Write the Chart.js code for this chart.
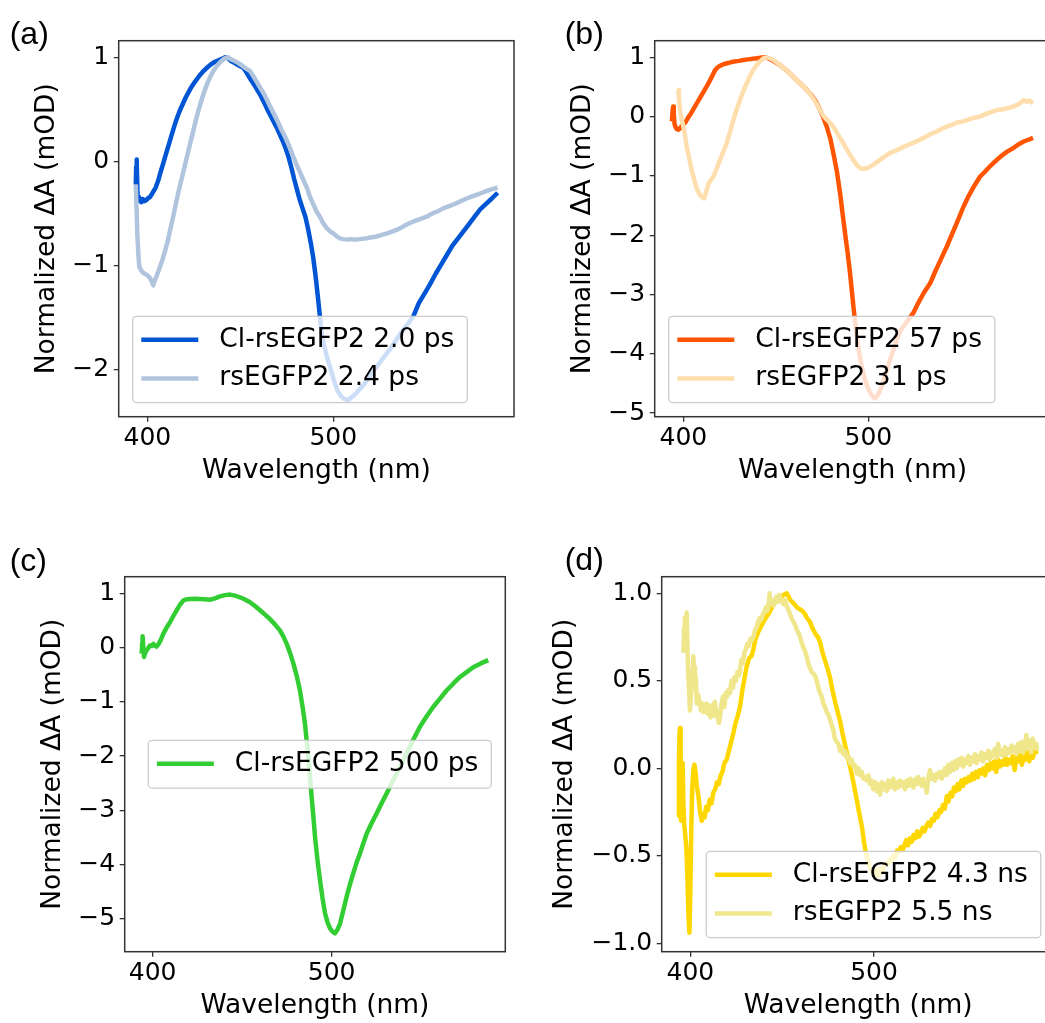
<!DOCTYPE html>
<html>
<head>
<meta charset="utf-8">
<script src="https://cdn.jsdelivr.net/npm/chart.js@4.4.1/dist/chart.umd.min.js"></script>
<style>
  body { margin: 0; background: #fff; }
  #page { position: relative; width: 1045px; height: 1023px; overflow: hidden; background: #fff; }
  #page canvas { position: absolute; }
</style>
</head>
<body>
<div id="page">
  <canvas id="chartA" width="522" height="500" style="left:0;top:0"></canvas>
  <canvas id="chartB" width="560" height="500" style="left:522px;top:0"></canvas>
  <canvas id="chartC" width="522" height="503" style="left:0;top:520px"></canvas>
  <canvas id="chartD" width="560" height="503" style="left:522px;top:520px"></canvas>
</div>
<script>
// spectra as [wavelength (nm), normalized dA] pairs
const specA_cl = [[393.8,-0.22],[394.0,-0.05],[394.2,0.02],[394.4,-0.02],[394.7,-0.30],[395.0,-0.37],[395.5,-0.34],[396.0,-0.38],[396.8,-0.39],[397.6,-0.36],[398.5,-0.38],[399.5,-0.37],[400.5,-0.35],[401.5,-0.34],[402.5,-0.31],[403.5,-0.28],[404.5,-0.25],[405.9,-0.18],[407,-0.11],[408.5,-0.02],[410,0.07],[411.5,0.16],[413,0.25],[414.5,0.34],[416,0.42],[417.5,0.49],[419,0.55],[420.5,0.61],[422,0.66],[423.5,0.71],[425,0.75],[426.6,0.79],[428.3,0.83],[430,0.865],[432,0.90],[434,0.93],[436,0.955],[438,0.97],[440,0.985],[441.8,1.0],[443.5,0.99],[445,0.965],[447,0.945],[449,0.925],[451.6,0.90],[453.5,0.85],[455.5,0.79],[457,0.75],[459,0.69],[461,0.63],[463,0.56],[464.5,0.50],[466,0.45],[468,0.38],[470,0.31],[471.5,0.25],[473,0.19],[474.5,0.12],[476,0.04],[477.5,-0.06],[479,-0.17],[480.5,-0.27],[482,-0.37],[483.5,-0.45],[485,-0.53],[486.5,-0.65],[488,-0.79],[489.2,-0.92],[490.5,-1.10],[491.9,-1.33],[493,-1.52],[493.7,-1.65],[495,-1.76],[496.5,-1.87],[498.2,-1.97],[500,-2.08],[502,-2.19],[504,-2.25],[506,-2.28],[508,-2.29],[510,-2.26],[512,-2.23],[514,-2.19],[516.5,-2.14],[519,-2.08],[522,-2.00],[525,-1.93],[528,-1.86],[531,-1.79],[534,-1.71],[537,-1.63],[540,-1.56],[543,-1.49],[546,-1.36],[549,-1.27],[552,-1.18],[555,-1.08],[558,-0.99],[561,-0.90],[564,-0.81],[567,-0.74],[570,-0.67],[573,-0.60],[576,-0.53],[579,-0.46],[582,-0.41],[585,-0.36],[588.4,-0.30]];
const specA_wt = [[393.8,-0.22],[394.2,-0.45],[394.6,-0.69],[395.2,-0.90],[395.7,-1.01],[396.5,-1.04],[397.8,-1.07],[399,-1.08],[400.5,-1.10],[401.5,-1.12],[402.5,-1.16],[403.2,-1.19],[404,-1.14],[405,-1.10],[406,-1.05],[406.8,-1.01],[408,-0.95],[409.5,-0.86],[411,-0.76],[412.5,-0.64],[414,-0.52],[415.5,-0.39],[417,-0.27],[418.5,-0.16],[420,-0.05],[421.5,0.06],[423,0.17],[424.5,0.28],[426,0.39],[427.5,0.49],[429.5,0.61],[431,0.69],[432.5,0.76],[434,0.82],[435.5,0.87],[437.5,0.92],[439.5,0.96],[441.5,0.99],[443.5,1.0],[445,0.98],[447,0.965],[449,0.945],[451,0.92],[453,0.895],[455.2,0.87],[457,0.82],[459,0.76],[461,0.70],[463,0.64],[466,0.53],[468,0.46],[470,0.39],[472,0.31],[474,0.24],[476,0.16],[478,0.07],[480,-0.02],[482,-0.10],[484,-0.18],[486,-0.26],[487.5,-0.34],[489.5,-0.42],[491,-0.48],[492.8,-0.53],[494.5,-0.59],[496.5,-0.64],[498.3,-0.67],[500,-0.69],[502,-0.72],[503.8,-0.74],[505.4,-0.745],[507.5,-0.75],[509.5,-0.745],[511.5,-0.75],[514.4,-0.745],[517,-0.74],[520,-0.73],[523.3,-0.72],[526,-0.705],[529,-0.69],[532,-0.67],[535,-0.65],[538,-0.62],[541.2,-0.59],[544,-0.57],[547,-0.55],[550.2,-0.53],[553,-0.50],[556,-0.48],[559.1,-0.45],[562,-0.43],[565,-0.41],[568.1,-0.385],[571,-0.36],[574,-0.34],[577,-0.32],[580,-0.30],[583,-0.28],[585.5,-0.265],[588.4,-0.25]];

const specB_cl = [[393.8,-0.08],[394.2,0.10],[394.5,0.17],[394.8,0.05],[395.2,-0.12],[395.8,-0.18],[396.5,-0.21],[397.3,-0.22],[398.2,-0.20],[399,-0.16],[400,-0.13],[401,-0.10],[402.5,-0.02],[404,0.05],[405.5,0.13],[407,0.21],[408.5,0.29],[410,0.37],[411.5,0.45],[413,0.53],[414.5,0.62],[416,0.71],[417.1,0.78],[418.5,0.83],[420,0.86],[421.5,0.88],[423.5,0.90],[425.5,0.915],[427.5,0.93],[430,0.94],[432.5,0.955],[435,0.965],[437.5,0.975],[440,0.985],[442.5,0.995],[444.2,1.0],[446,0.98],[448,0.95],[450,0.91],[452.3,0.87],[454.5,0.81],[456.5,0.76],[459.5,0.67],[462,0.59],[464.5,0.52],[466.7,0.45],[469,0.37],[471.5,0.26],[473.9,0.11],[475.5,0.0],[477.5,-0.17],[479.5,-0.38],[481.1,-0.62],[483,-0.93],[484.7,-1.29],[486,-1.62],[487.4,-1.97],[488.8,-2.30],[490.1,-2.64],[491,-2.92],[491.9,-3.2],[492.8,-3.45],[493.7,-3.7],[495,-3.98],[496.4,-4.21],[498.2,-4.44],[500,-4.6],[501.8,-4.70],[503.6,-4.75],[505.4,-4.68],[507.2,-4.55],[509.5,-4.33],[511.7,-4.1],[514.5,-3.84],[517.1,-3.62],[521,-3.45],[524.3,-3.31],[527,-3.14],[530,-2.97],[533.4,-2.81],[536,-2.62],[539,-2.42],[542.4,-2.19],[545,-2.00],[548,-1.78],[551.4,-1.52],[554,-1.35],[557,-1.18],[560.4,-1.01],[563,-0.93],[566,-0.83],[569.4,-0.73],[572,-0.66],[575,-0.59],[578.4,-0.53],[581,-0.47],[584,-0.42],[586.5,-0.39],[589,-0.36]];
const specB_wt = [[397.3,0.45],[397.6,0.30],[398.2,0.11],[399,-0.03],[400,-0.17],[401,-0.34],[401.8,-0.51],[403,-0.68],[404.5,-0.90],[405.8,-1.06],[407.2,-1.21],[408.5,-1.30],[409.9,-1.35],[411.2,-1.38],[412.3,-1.27],[413.5,-1.14],[415,-1.06],[416.2,-1.01],[418,-0.88],[419.8,-0.73],[421.5,-0.60],[423.4,-0.45],[425.2,-0.26],[427,-0.06],[428.8,0.12],[430.6,0.28],[432.4,0.43],[434.2,0.56],[436,0.68],[437.8,0.79],[439.6,0.87],[441.4,0.93],[443.2,0.98],[445,1.0],[446.8,0.985],[448.6,0.955],[450.5,0.91],[452.3,0.87],[455,0.80],[457.5,0.73],[459.5,0.67],[462,0.59],[464.5,0.52],[466.7,0.45],[469,0.36],[471.5,0.24],[473.9,0.11],[476,0.0],[478.5,-0.08],[481.1,-0.17],[483.5,-0.30],[486.5,-0.45],[489,-0.59],[491.9,-0.73],[493.5,-0.81],[495.5,-0.87],[497.5,-0.88],[499.1,-0.87],[501,-0.84],[502.7,-0.81],[505,-0.76],[507.5,-0.70],[509.9,-0.65],[512,-0.61],[515,-0.57],[518.9,-0.51],[522,-0.47],[525,-0.43],[527.9,-0.39],[531,-0.34],[534,-0.29],[536.9,-0.25],[540,-0.20],[542.4,-0.17],[545,-0.14],[548,-0.10],[551.4,-0.08],[554,-0.05],[557,-0.02],[560.4,0.0],[563,0.04],[566,0.07],[569.4,0.11],[572,0.12],[575,0.14],[578.4,0.17],[580.5,0.20],[582.5,0.24],[584,0.28],[585.5,0.25],[587,0.27],[589,0.225]];

const specC_cl = [[393.9,-0.11],[394.2,0.10],[394.4,0.21],[394.7,0.05],[395.2,-0.17],[395.8,-0.10],[396.6,-0.05],[397.5,-0.01],[398.5,0.04],[399.5,0.03],[400.4,0.07],[401.2,0.04],[402.2,0.02],[403.2,0.06],[404.5,0.14],[406,0.26],[407.8,0.37],[409.7,0.47],[411.5,0.58],[413.4,0.69],[415.2,0.79],[417.1,0.87],[418.5,0.89],[420.9,0.90],[423.5,0.905],[426.4,0.90],[429,0.895],[432,0.885],[434.8,0.91],[437.6,0.946],[440.4,0.97],[443.2,0.98],[446,0.96],[448.8,0.93],[451.6,0.89],[454.4,0.84],[457.2,0.77],[460,0.69],[462.8,0.61],[465.5,0.53],[468.3,0.43],[471.1,0.32],[473,0.21],[474.9,0.07],[476.8,-0.10],[478.6,-0.29],[480.5,-0.52],[482.3,-0.79],[483.7,-1.08],[485.1,-1.40],[486,-1.70],[487,-2.01],[487.9,-2.38],[488.8,-2.75],[489.8,-3.12],[490.7,-3.49],[492.1,-3.92],[493.5,-4.29],[494.9,-4.62],[496.3,-4.90],[497.7,-5.07],[499.1,-5.18],[500.5,-5.24],[501.9,-5.27],[503.3,-5.20],[504.7,-5.09],[506.5,-4.85],[508.4,-4.59],[510.2,-4.37],[512.1,-4.16],[513.9,-3.97],[515.8,-3.80],[517.7,-3.61],[519.6,-3.43],[522.3,-3.24],[525.1,-3.06],[527.9,-2.87],[530.7,-2.69],[533.5,-2.50],[536.3,-2.32],[539.1,-2.13],[541.9,-1.95],[545.6,-1.70],[549.3,-1.46],[553,-1.27],[556.8,-1.09],[560.5,-0.94],[564.2,-0.79],[568,-0.66],[571.7,-0.54],[575.4,-0.45],[579.1,-0.36],[583.3,-0.29],[587.5,-0.23]];

const specD_cl = [[393.5,-0.28],[393.8,0.05],[394.1,0.20],[394.4,0.23],[394.7,0.10],[395.0,-0.30],[395.4,-0.05],[395.8,0.03],[396.2,-0.20],[396.6,-0.31],[397.2,-0.38],[397.8,-0.45],[398.4,-0.62],[399.0,-0.85],[399.5,-0.94],[400.0,-0.70],[400.5,-0.35],[401.0,-0.12],[401.6,-0.01],[402.2,0.02],[402.8,-0.02],[403.5,-0.10],[404.4,-0.16],[405.2,-0.24],[406.2,-0.30],[407.0,-0.26],[407.8,-0.28],[408.6,-0.22],[409.5,-0.24],[410.5,-0.18],[411.5,-0.20],[412.5,-0.14],[413.5,-0.12],[414.5,-0.08],[415.5,-0.09],[416.5,-0.04],[417.5,-0.02],[418.5,0.03],[419.8,0.05],[421,0.10],[422.2,0.15],[423.4,0.20],[424.6,0.26],[425.8,0.30],[427,0.35],[428.2,0.44],[429.4,0.51],[430.6,0.58],[432,0.63],[433.2,0.64],[434.3,0.68],[435.5,0.74],[437,0.78],[438.5,0.81],[440,0.84],[441.6,0.87],[443,0.89],[444.5,0.92],[446,0.95],[447.5,0.96],[449,0.97],[450.5,0.99],[452.5,1.0],[453.5,0.98],[454.5,0.96],[455.5,0.95],[456.5,0.94],[458,0.92],[459.5,0.91],[461,0.90],[462.5,0.88],[463.4,0.86],[465,0.84],[466.5,0.80],[468,0.77],[469.5,0.75],[470.6,0.72],[472,0.66],[473.5,0.61],[475,0.56],[476,0.52],[477.5,0.44],[479,0.37],[480.5,0.31],[481.5,0.27],[483,0.19],[484.5,0.12],[486,0.05],[486.9,0.01],[488,-0.04],[489.5,-0.12],[490.6,-0.18],[492,-0.26],[493.5,-0.34],[494.5,-0.42],[495.5,-0.48],[496.5,-0.52],[497.5,-0.56],[498.5,-0.58],[499.6,-0.60],[500.5,-0.62],[501.5,-0.58],[502.5,-0.61],[503.5,-0.57],[504.5,-0.60],[505.5,-0.56],[506.5,-0.54],[507.5,-0.55],[508.5,-0.52],[509.5,-0.53],[510.5,-0.50],[511.5,-0.51],[512.5,-0.47],[513.5,-0.48],[514.5,-0.45],[515.5,-0.47],[516.5,-0.44],[517.5,-0.41],[518.5,-0.44],[519.5,-0.40],[520.5,-0.42],[521.5,-0.38],[522.5,-0.40],[523.5,-0.36],[524.5,-0.39],[525.5,-0.37],[526.5,-0.34],[527.5,-0.36],[528.5,-0.33],[529.5,-0.31],[530.5,-0.33],[531.5,-0.29],[532.5,-0.30],[533.5,-0.26],[534.5,-0.28],[535.5,-0.24],[536.5,-0.25],[537.5,-0.21],[538.5,-0.23],[539.6,-0.16],[540.5,-0.19],[541.5,-0.14],[542.5,-0.16],[543.5,-0.11],[544.5,-0.13],[545.5,-0.09],[546.5,-0.12],[547.5,-0.07],[548.5,-0.10],[549.5,-0.06],[550.5,-0.08],[551.5,-0.05],[552.5,-0.07],[553.5,-0.03],[554.5,-0.06],[555.5,-0.02],[556.5,-0.05],[557.5,-0.01],[558.5,-0.03],[559.5,0.0],[560.5,-0.04],[561.5,0.02],[562.5,-0.01],[563.5,0.03],[564.5,0.0],[565.5,0.04],[566.5,-0.02],[567.5,0.05],[568.5,0.01],[569.5,0.04],[570.5,0.02],[571.5,0.06],[572.5,0.02],[573.5,0.05],[574.5,0.03],[575.5,0.07],[576.5,-0.01],[577.5,0.06],[578.5,0.04],[579.5,0.08],[580.5,0.02],[581.5,0.07],[582.5,0.05],[583.5,0.10],[584.5,0.04],[585.5,0.09],[586.5,0.06],[587.5,0.11],[588.5,0.08]];
const specD_wt = [[396.2,0.66],[396.6,0.80],[397.0,0.86],[397.4,0.78],[398.0,0.89],[398.4,0.70],[398.8,0.55],[399.3,0.45],[399.8,0.33],[400.3,0.42],[400.8,0.55],[401.3,0.50],[401.6,0.64],[402.0,0.58],[402.5,0.45],[403.0,0.52],[403.5,0.37],[404.2,0.42],[405.0,0.38],[405.8,0.33],[406.5,0.37],[407.3,0.32],[408.0,0.36],[408.9,0.37],[409.6,0.31],[410.3,0.35],[411.0,0.29],[411.8,0.36],[412.5,0.30],[413.3,0.38],[414.0,0.33],[414.8,0.29],[415.6,0.26],[416.2,0.30],[417,0.37],[417.8,0.41],[418.5,0.35],[419.3,0.43],[420.0,0.41],[420.8,0.45],[421.6,0.43],[422.4,0.50],[423.2,0.46],[424,0.52],[424.8,0.50],[425.6,0.55],[426.4,0.53],[427,0.56],[427.8,0.62],[428.6,0.60],[429.4,0.66],[430.2,0.68],[431,0.71],[431.8,0.70],[432.6,0.74],[433.4,0.73],[434.3,0.75],[435.2,0.79],[436,0.80],[437,0.84],[437.8,0.86],[438.6,0.85],[439.5,0.88],[440.4,0.90],[441.2,0.92],[442,0.90],[442.8,0.96],[443.2,1.0],[443.6,0.94],[444.4,0.96],[445.2,0.93],[446,0.95],[446.8,0.98],[447.6,0.95],[448.4,0.99],[449.2,0.97],[450,0.95],[450.6,0.94],[451.5,0.96],[452.3,0.93],[453.2,0.91],[454,0.89],[455,0.86],[456,0.84],[457,0.82],[458,0.79],[459,0.77],[459.7,0.75],[460.6,0.72],[461.5,0.69],[462.4,0.67],[463.3,0.64],[464.2,0.60],[465.2,0.57],[466.1,0.55],[467,0.54],[467.9,0.53],[468.8,0.50],[469.7,0.46],[470.6,0.43],[471.5,0.41],[472.4,0.37],[473.3,0.35],[474.2,0.32],[475.1,0.31],[476,0.28],[476.9,0.25],[477.8,0.22],[478.7,0.17],[479.7,0.15],[480.6,0.14],[481.5,0.10],[482.4,0.12],[483.3,0.08],[484.2,0.10],[485.1,0.06],[486,0.07],[486.9,0.03],[487.8,0.05],[488.7,0.01],[489.6,0.02],[490.6,-0.03],[491.5,0.0],[492.4,-0.04],[493.3,-0.02],[494.2,-0.06],[495.1,-0.05],[496,-0.07],[496.9,-0.04],[497.8,-0.09],[498.7,-0.07],[499.6,-0.12],[500.5,-0.08],[501.4,-0.13],[502.3,-0.09],[503.3,-0.15],[504.2,-0.08],[505.1,-0.12],[506,-0.09],[506.9,-0.13],[507.8,-0.07],[508.7,-0.11],[509.6,-0.10],[510.5,-0.06],[511.4,-0.12],[512.3,-0.08],[513.2,-0.11],[514.1,-0.07],[515,-0.10],[515.9,-0.08],[516.8,-0.12],[517.8,-0.07],[518.7,-0.10],[519.6,-0.06],[520.5,-0.09],[521.4,-0.11],[522.3,-0.06],[523.2,-0.09],[524.1,-0.05],[525,-0.08],[525.9,-0.10],[526.8,-0.06],[527.7,-0.09],[528.7,-0.14],[529.6,-0.05],[530.5,-0.01],[531.4,-0.06],[532.3,-0.04],[533.2,-0.07],[534.1,-0.03],[535,-0.05],[535.9,-0.02],[536.8,-0.06],[537.7,-0.03],[538.6,0.0],[539.5,-0.04],[540.4,0.02],[541.4,-0.02],[542.3,0.03],[543.2,-0.01],[544.1,0.04],[545,0.0],[545.9,0.05],[546.8,0.02],[547.7,0.06],[548.6,0.01],[549.5,0.05],[550.4,0.03],[551.3,0.07],[552.2,0.02],[553.1,0.06],[554,0.04],[554.9,0.08],[555.8,0.03],[556.7,0.07],[557.6,0.05],[558.5,0.09],[559.4,0.04],[560.3,0.08],[561.2,0.06],[562.1,0.10],[563,0.05],[563.9,0.09],[564.8,0.07],[565.7,0.11],[566.7,0.06],[567.6,0.14],[568.5,0.08],[569.4,0.10],[570.3,0.07],[571.2,0.12],[572.1,0.08],[573,0.11],[573.9,0.09],[574.8,0.13],[575.7,0.10],[576.6,0.12],[577.5,0.08],[578.4,0.14],[579.3,0.10],[580.2,0.15],[581.1,0.09],[582,0.13],[582.9,0.19],[583.8,0.11],[584.7,0.16],[585.6,0.09],[586.5,0.17],[587.4,0.12],[588.3,0.14],[588.8,0.10]];

// tick values
const xTicks = [400, 500];
const yTicksA = [-2, -1, 0, 1];
const yTicksB = [-5, -4, -3, -2, -1, 0, 1];
const yTicksC = [-5, -4, -3, -2, -1, 0, 1];
const yTicksD = [-1, -0.5, 0, 0.5, 1];

const FONT = 'DejaVu Sans';
const AXIS_COLOR = '#333333';

// matplotlib style minus sign
function fmtInt(v) { return v < 0 ? '\u2212' + Math.abs(v) : String(v); }
function fmtOne(v) { return v < 0 ? '\u2212' + Math.abs(v).toFixed(1) : v.toFixed(1); }

const panelDecor = {
  id: 'panelDecor',
  afterDatasetsDraw(chart, args, opts) {
    const ctx = chart.ctx;
    const a = chart.chartArea;
    ctx.save();
    ctx.strokeStyle = AXIS_COLOR;
    ctx.lineWidth = 1.5;
    ctx.strokeRect(a.left, a.top, a.right - a.left, a.bottom - a.top);

    // legend box
    const sets = chart.data.datasets;
    ctx.font = '26.5px "' + FONT + '"';
    const textW = Math.max(...sets.map(d => ctx.measureText(d.label).width));
    const w = textW + 99.5;
    const h = 9 + 38.7 * sets.length;
    const gap = 14;
    let x = a.left + gap;
    let y = a.bottom - gap - h;
    if (opts.loc === 'lower right') x = a.right - gap - w;
    if (opts.loc === 'center right') {
      x = a.right - gap - w;
      y = (a.top + a.bottom - h) / 2;
    }
    ctx.beginPath();
    ctx.roundRect(x, y, w, h, 4);
    ctx.fillStyle = 'rgba(255,255,255,0.8)';
    ctx.fill();
    ctx.strokeStyle = '#cccccc';
    ctx.lineWidth = 1.3;
    ctx.stroke();

    ctx.textBaseline = 'middle';
    ctx.textAlign = 'left';
    sets.forEach((d, i) => {
      const cy = y + 23.5 + 38.7 * i;
      ctx.beginPath();
      ctx.moveTo(x + 8.6, cy);
      ctx.lineTo(x + 65.6, cy);
      ctx.strokeStyle = d.borderColor;
      ctx.lineWidth = 4.5;
      ctx.stroke();
      ctx.fillStyle = '#000';
      ctx.fillText(d.label, x + 86.6, cy);
    });

    // panel tag
    ctx.font = '32px "Liberation Sans"';
    ctx.textBaseline = 'alphabetic';
    ctx.fillText(opts.tag.text, opts.tag.x, opts.tag.y);
    ctx.restore();
  }
};

function series(label, points, color, order) {
  return {
    label: label,
    data: points.map(p => ({ x: p[0], y: p[1] })),
    borderColor: color,
    borderWidth: 4.5,
    pointRadius: 0,
    tension: 0,
    fill: false,
    borderJoinStyle: 'round',
    order: order
  };
}

function makePanel(id, p) {
  const canvas = document.getElementById(id);
  const W = canvas.width, H = canvas.height;
  const xAxisH = 70.5;
  return new Chart(canvas, {
    type: 'line',
    data: { datasets: p.datasets },
    plugins: [panelDecor],
    options: {
      responsive: false,
      animation: false,
      devicePixelRatio: 1,
      layout: { padding: { left: 0, top: p.area.top, right: W - p.area.right, bottom: H - p.area.bottom - xAxisH } },
      plugins: {
        legend: { display: false },
        tooltip: { enabled: false },
        panelDecor: { loc: p.loc, tag: p.tag }
      },
      scales: {
        x: {
          type: 'linear',
          min: p.xRange[0],
          max: p.xRange[1],
          afterBuildTicks: s => { s.ticks = xTicks.map(v => ({ value: v })); },
          afterFit: s => { s.height = xAxisH; },
          border: { display: false },
          grid: { drawOnChartArea: false, drawTicks: true, tickLength: 5, color: AXIS_COLOR, lineWidth: 1.3 },
          ticks: { font: { family: FONT, size: 25 }, color: '#000', padding: 2, maxRotation: 0, callback: v => String(v) },
          title: { display: true, text: 'Wavelength (nm)', font: { family: FONT, size: 26.5 }, color: '#000', padding: { top: 0, bottom: 0 } }
        },
        y: {
          type: 'linear',
          min: p.yRange[0],
          max: p.yRange[1],
          afterBuildTicks: s => { s.ticks = p.yTicks.map(v => ({ value: v })); },
          afterFit: s => { s.width = p.area.left; },
          border: { display: false },
          grid: { drawOnChartArea: false, drawTicks: true, tickLength: 5, color: AXIS_COLOR, lineWidth: 1.3 },
          ticks: { font: { family: FONT, size: 25 }, color: '#000', padding: 4.5, autoSkip: false, callback: p.fmt },
          title: { display: true, text: 'Normalized \u0394A (mOD)', font: { family: FONT, size: 26.5 }, color: '#000', padding: { top: p.yTitlePad, bottom: 0 } }
        }
      }
    }
  });
}

makePanel('chartA', {
  datasets: [
    series('Cl-rsEGFP2 2.0 ps', specA_cl, '#0055d4', 1),
    series('rsEGFP2 2.4 ps', specA_wt, '#b0c4de', 0)
  ],
  area: { left: 118.7, top: 40.7, right: 514, bottom: 416.7 },
  xRange: [384.6, 597.2],
  yRange: [-2.45, 1.16],
  yTicks: yTicksA,
  fmt: fmtInt,
  yTitlePad: 31.6,
  loc: 'lower left',
  tag: { text: '(a)', x: 9.7, y: 44 }
});

makePanel('chartB', {
  datasets: [
    series('Cl-rsEGFP2 57 ps', specB_cl, '#ff5500', 1),
    series('rsEGFP2 31 ps', specB_wt, '#ffdead', 0)
  ],
  area: { left: 132.7, top: 40.7, right: 528.6, bottom: 416.7 },
  xRange: [384.5, 598.5],
  yRange: [-5.06, 1.28],
  yTicks: yTicksB,
  fmt: fmtInt,
  yTitlePad: 45.4,
  loc: 'lower left',
  tag: { text: '(b)', x: 42.7, y: 44 }
});

makePanel('chartC', {
  datasets: [
    series('Cl-rsEGFP2 500 ps', specC_cl, '#32cd32', 0)
  ],
  area: { left: 124.7, top: 56.7, right: 505.3, bottom: 431.7 },
  xRange: [384.4, 597],
  yRange: [-5.61, 1.31],
  yTicks: yTicksC,
  fmt: fmtInt,
  yTitlePad: 37.4,
  loc: 'center right',
  tag: { text: '(c)', x: 9.7, y: 51.3 }
});

makePanel('chartD', {
  datasets: [
    series('Cl-rsEGFP2 4.3 ns', specD_cl, '#ffd700', 1),
    series('rsEGFP2 5.5 ns', specD_wt, '#f0e68c', 0)
  ],
  area: { left: 139.7, top: 56.7, right: 532.8, bottom: 431.7 },
  xRange: [384.4, 598.4],
  yRange: [-1.048, 1.095],
  yTicks: yTicksD,
  fmt: fmtOne,
  yTitlePad: 27.1,
  loc: 'lower right',
  tag: { text: '(d)', x: 42.7, y: 50 }
});
</script>
</body>
</html>
